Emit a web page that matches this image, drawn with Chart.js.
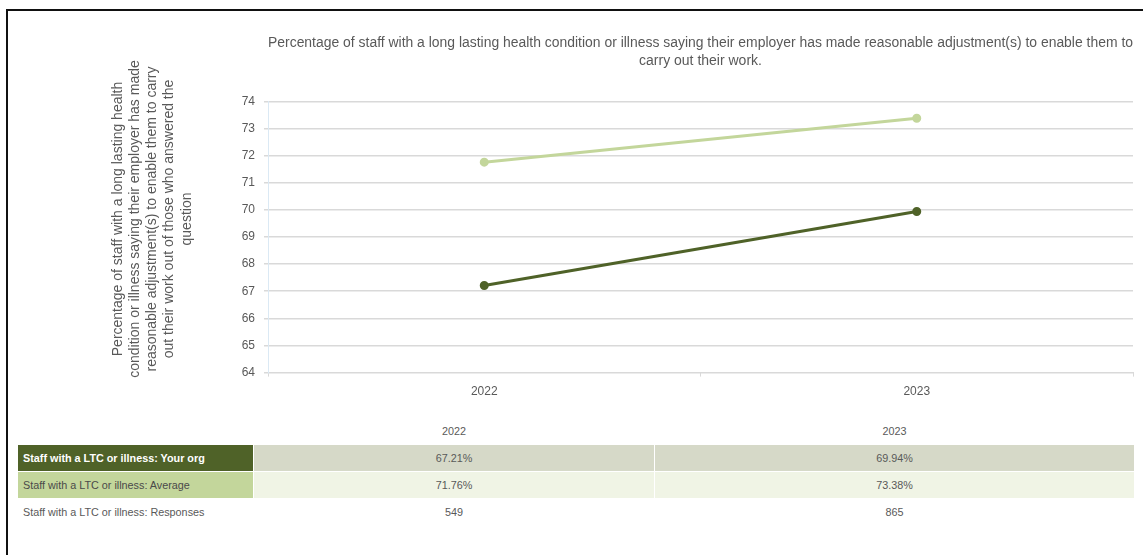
<!DOCTYPE html>
<html>
<head>
<meta charset="utf-8">
<script src="https://cdn.jsdelivr.net/npm/chart.js@4"></script>
<style>
    body { margin: 0; background: #fff; width: 1143px; height: 555px; overflow: hidden; position: relative; }
    #frame { position: absolute; left: 6px; top: 9px; width: 1200px; height: 600px; border: 2px solid #111; }
    #chartBox { position: absolute; left: 0; top: 0; width: 1143px; height: 410px; }
    #dataTable {
        position: absolute; left: 18px; top: 418px;
        border-collapse: collapse;
        font-family: "Liberation Sans", Arial, sans-serif;
        font-size: 10.8px; color: #595959;
    }
    #dataTable td { padding: 0; text-align: center; border-right: 1px solid #fff; border-bottom: 1px solid #fff; }
    #dataTable td.lbl { text-align: left; padding-left: 5px; }
    #dataTable tr.head td { height: 26px; }
    #dataTable tr.row td { height: 26px; }
    tr.org td.lbl { background: #4f6228; color: #fff; font-weight: bold; }
    tr.org td.val { background: #d6d9c8; }
    tr.avg td.lbl { background: #c3d69b; color: #4a4a4a; }
    tr.avg td.val { background: #f0f4e5; }
</style>
</head>
<body>
<div id="frame"></div>
<div id="chartBox"><canvas id="myChart"></canvas></div>
<table id="dataTable"></table>

<script>
// ----- DATA -----
const years = ['2022', '2023'];
const yourOrg = [67.21, 69.94];
const average = [71.76, 73.38];
const responses = [549, 865];

const seriesNames = [
    'Staff with a LTC or illness: Your org',
    'Staff with a LTC or illness: Average',
    'Staff with a LTC or illness: Responses'
];

const chartTitle = [
    'Percentage of staff with a long lasting health condition or illness saying their employer has made reasonable adjustment(s) to enable them to',
    'carry out their work.'
];

const yTitle = [
    'Percentage of staff with a long lasting health',
    'condition or illness saying their employer has made',
    'reasonable adjustment(s) to enable them to carry',
    'out their work out of those who answered the',
    'question'
];

const fontFamily = '"Liberation Sans", Arial, sans-serif';
const textColor = '#595959';

// ----- TABLE -----
function buildTable() {
    let html = '<tr class="head"><td style="width:235px"></td>';
    years.forEach((y, i) => {
        html += `<td style="width:${i === 0 ? 400 : 479}px">${y}</td>`;
    });
    html += '</tr>';
    html += `<tr class="row org"><td class="lbl">${seriesNames[0]}</td>` +
        yourOrg.map(v => `<td class="val">${v.toFixed(2)}%</td>`).join('') + '</tr>';
    html += `<tr class="row avg"><td class="lbl">${seriesNames[1]}</td>` +
        average.map(v => `<td class="val">${v.toFixed(2)}%</td>`).join('') + '</tr>';
    html += `<tr class="row"><td class="lbl">${seriesNames[2]}</td>` +
        responses.map(v => `<td>${v}</td>`).join('') + '</tr>';
    document.getElementById('dataTable').innerHTML = html;
}
buildTable();

// ----- Y AXIS TITLE (drawn by hand so it can sit a bit higher) -----
const yTitlePlugin = {
    id: 'yTitlePlugin',
    afterDraw(chart) {
        const ctx = chart.ctx;
        ctx.save();
        ctx.font = '14px ' + fontFamily;
        ctx.fillStyle = textColor;
        ctx.textAlign = 'center';
        ctx.textBaseline = 'middle';
        ctx.translate(118, 219);
        ctx.rotate(-Math.PI / 2);
        yTitle.forEach((line, i) => {
            ctx.fillText(line, 0, i * 17.2);
        });
        ctx.restore();
    }
};

// ----- CHART -----
const ctx = document.getElementById('myChart').getContext('2d');
new Chart(ctx, {
    type: 'line',
    data: {
        labels: years,
        datasets: [{
            label: seriesNames[0],
            data: yourOrg,
            borderColor: '#4f6228',
            backgroundColor: '#4f6228',
            borderWidth: 3,
            pointRadius: 3,
            pointHoverRadius: 3
        }, {
            label: seriesNames[1],
            data: average,
            borderColor: '#c3d69b',
            backgroundColor: '#c3d69b',
            borderWidth: 3,
            pointRadius: 3,
            pointHoverRadius: 3
        }]
    },
    options: {
        responsive: true,
        maintainAspectRatio: false,
        animation: false,
        layout: { padding: { left: 106, right: 10, top: 0, bottom: 3 } },
        plugins: {
            legend: { display: false },
            tooltip: { enabled: false },
            title: {
                display: true,
                fullSize: false, // centre over the plot area
                text: chartTitle,
                color: textColor,
                font: { family: fontFamily, size: 14, weight: 'normal', lineHeight: 1.3 },
                padding: { top: 34, bottom: 31 }
            }
        },
        scales: {
            x: {
                offset: true,
                grid: { drawOnChartArea: false, drawTicks: true, tickLength: 4, offset: true, color: '#d9d9d9' },
                border: { color: '#d9d9d9', width: 1 },
                ticks: { color: textColor, padding: 8, font: { family: fontFamily, size: 12 } }
            },
            y: {
                min: 64,
                max: 74,
                ticks: { stepSize: 1, color: textColor, padding: 9, font: { family: fontFamily, size: 12 } },
                grid: { color: '#d9d9d9', lineWidth: 1.5, tickLength: 4 },
                border: { color: '#dbe9f4', width: 1 },
                afterFit: function (scale) { scale.width = 162; }
            }
        }
    },
    plugins: [yTitlePlugin]
});
</script>
</body>
</html>
